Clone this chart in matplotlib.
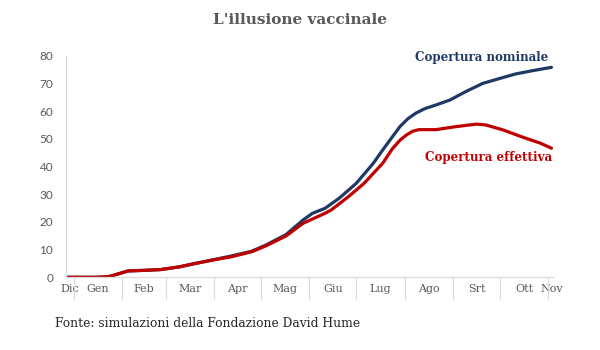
import matplotlib
matplotlib.use("Agg")
import matplotlib.pyplot as plt
import pandas as pd

# ---- data ----
start_date = "2020-12-27"
end_date = "2021-11-03"
dates = ["2020-12-27", "2021-01-10", "2021-01-17", "2021-01-24", "2021-01-30",
         "2021-02-05", "2021-02-15", "2021-02-26", "2021-03-10", "2021-03-20",
         "2021-04-01", "2021-04-12", "2021-04-25", "2021-05-04", "2021-05-17",
         "2021-05-28", "2021-06-03", "2021-06-11", "2021-06-20", "2021-07-01",
         "2021-07-12", "2021-07-18", "2021-07-24", "2021-07-29", "2021-08-03",
         "2021-08-08", "2021-08-14", "2021-08-21",
         "2021-08-30", "2021-09-09", "2021-09-20", "2021-10-01", "2021-10-11",
         "2021-10-22", "2021-11-03"]
nominal = [0.0, 0.0, 0.0, 0.3, 1.3,
           2.3, 2.5, 2.8, 3.8, 5.0,
           6.4, 7.7, 9.4, 11.6, 15.4,
           20.7, 23.1, 24.9, 28.5, 33.9,
           41.2, 46.0, 50.6, 54.4, 57.2,
           59.2, 60.9, 62.2,
           64.0, 67.0, 70.0, 71.8, 73.4,
           74.6, 75.8]
eff_dates = ["2020-12-27", "2021-01-10", "2021-01-17", "2021-01-24", "2021-01-30",
             "2021-02-05", "2021-02-15", "2021-02-26", "2021-03-10", "2021-03-20",
             "2021-04-01", "2021-04-12", "2021-04-25", "2021-05-04", "2021-05-17",
             "2021-05-28", "2021-06-11", "2021-06-15", "2021-06-26", "2021-07-06",
             "2021-07-18", "2021-07-24", "2021-07-29", "2021-08-02", "2021-08-06",
             "2021-08-10", "2021-08-21",
             "2021-09-03", "2021-09-16", "2021-09-22", "2021-10-03", "2021-10-16",
             "2021-10-27", "2021-11-03"]
effective = [0.0, 0.0, 0.0, 0.3, 1.3,
             2.3, 2.5, 2.8, 3.8, 5.0,
             6.3, 7.4, 9.2, 11.3, 14.9,
             19.5, 23.1, 24.3, 29.1, 33.9,
             41.2, 46.3, 49.5, 51.3, 52.7,
             53.3, 53.3,
             54.4, 55.3, 55.0, 53.2, 50.5,
             48.4, 46.6]
month_labels = ["Dic", "Gen", "Feb", "Mar", "Apr", "Mag", "Giu", "Lug",
                "Ago", "Srt", "Ott", "Nov"]
y_ticks = [0, 10, 20, 30, 40, 50, 60, 70, 80]

title = "L'illusione vaccinale"
source = "Fonte: simulazioni della Fondazione David Hume"
label_nom = "Copertura nominale"
label_eff = "Copertura effettiva"

# ---- derived ----
t0 = pd.Timestamp(start_date)
tend = pd.Timestamp(end_date)
x_nom = [(pd.Timestamp(d) - t0).days for d in dates]
x_eff = [(pd.Timestamp(d) - t0).days for d in eff_dates]
bounds = [(b - t0).days for b in pd.date_range("2021-01-01", "2021-11-01", freq="MS")]
xmax = (tend - t0).days + 1
edges = [0] + bounds + [xmax + 2]
mids = [(a + b) / 2 for a, b in zip(edges[:-1], edges[1:])]

NAVY = "#1F3864"
RED = "#C00000"
GRAY = "#595959"
LGRAY = "#D9D9D9"

fig = plt.figure(figsize=(6, 3.5), dpi=100)
ax = fig.add_axes([0.1095, 0.2077, 0.8122, 0.6332])

ax.plot(x_nom, nominal, color=NAVY, lw=2.3, solid_capstyle="round", solid_joinstyle="round")
ax.plot(x_eff, effective, color=RED, lw=2.3, solid_capstyle="round", solid_joinstyle="round")

ax.set_xlim(0, xmax)
ax.set_ylim(0, 80)
ax.set_yticks(y_ticks)
ax.set_yticklabels([str(v) for v in y_ticks], fontfamily="Lato", fontsize=8.5, color=GRAY)
ax.tick_params(axis="y", length=0, pad=9)

ax.set_xticks(mids)
ax.set_xticklabels(month_labels, fontfamily="DejaVu Serif", fontsize=8, color=GRAY)
ax.tick_params(axis="x", which="major", length=0, pad=5)
ax.set_xticks(bounds, minor=True)
ax.tick_params(axis="x", which="minor", length=16, width=0.8, color=LGRAY, direction="out")

for s in ["top", "right"]:
    ax.spines[s].set_visible(False)
for s in ["left", "bottom"]:
    ax.spines[s].set_color(LGRAY)
    ax.spines[s].set_linewidth(0.9)

fig.text(0.5, 0.943, title, ha="center", va="center", fontfamily="DejaVu Serif",
         fontweight="bold", fontsize=11, color=GRAY)
fig.text(0.092, 0.077, source, ha="left", va="center", fontfamily="DejaVu Serif",
         fontsize=8.8, color="#262626")
fig.text(0.913, 0.837, label_nom, ha="right", va="center", fontfamily="DejaVu Serif",
         fontweight="bold", fontsize=8.6, color=NAVY)
fig.text(0.92, 0.551, label_eff, ha="right", va="center", fontfamily="DejaVu Serif",
         fontweight="bold", fontsize=8.6, color=RED)

fig.savefig("out.png", dpi=100)
